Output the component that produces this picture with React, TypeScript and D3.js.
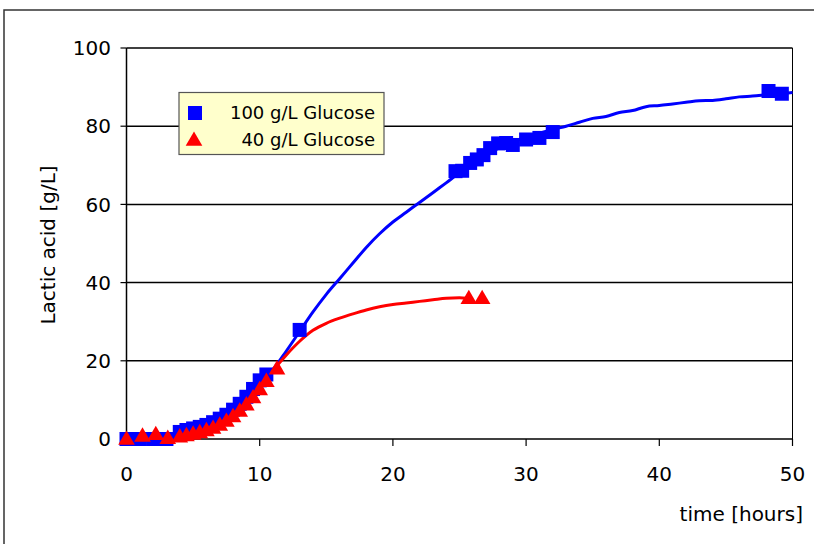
import React from 'react';
import * as d3 from 'd3';

// measured samples, 100 g/L glucose (squares)
const hours100 = [0, 1, 2, 3, 4, 4.5, 5, 5.5, 6, 6.5, 7, 7.5, 8, 8.5, 9, 9.5, 10, 10.5, 13,
  24.7, 25.2, 25.8, 26.3, 26.8, 27.3, 27.9, 28.5, 29, 30, 31, 32, 48.2, 49.2];
const lactic100 = [0, 0, 0, 0, 1.8, 2.3, 2.7, 3.1, 3.6, 4.3, 5.2, 6.2, 7.5, 9, 10.8, 12.8, 15, 16.5, 27.9,
  68.5, 68.6, 70.6, 71.5, 72.6, 74.4, 75.6, 75.7, 75.2, 76.6, 77, 78.5, 89, 88.3];

// measured samples, 40 g/L glucose (triangles)
const hours40 = [0, 1.2, 2.2, 3.1, 4, 4.5, 5, 5.5, 6, 6.5, 7, 7.5, 8, 8.5, 9, 9.5, 10, 10.5, 11.3, 25.7, 26.7];
const lactic40 = [0, 0.8, 1.2, 0.2, 0.6, 0.9, 1.3, 1.7, 2.2, 2.8, 3.6, 4.6, 5.8, 7.2, 8.8, 10.6, 12.7, 14.8, 18, 36, 36];

// model curves
const fitHours100 = [0, 2, 4, 5, 6, 7, 8, 9, 10, 11, 12, 13, 14, 15, 16, 17, 18, 19, 20, 21, 22, 23, 24, 25,
  26, 27, 28, 29, 30, 31, 32, 33, 34, 35, 36, 37, 38, 39, 40, 41, 42, 43, 44, 45, 46, 47, 48, 49, 50];
const fitLactic100 = [0, 0.3, 1.3, 2.2, 3.3, 5, 7.5, 10.6, 14.5, 17.8, 22.5, 27.5, 32.5, 37, 41, 45, 49, 52.5,
  55.5, 58, 60.5, 63, 65.5, 68, 70, 72.5, 74.5, 76, 77.2, 78.2, 79.2, 80, 81, 82, 82.5, 83.5, 84, 85, 85.3,
  85.7, 86.1, 86.5, 86.6, 87, 87.5, 87.7, 88, 88.3, 88.6];
const fitHours40 = [0, 2, 4, 5, 6, 7, 8, 9, 10, 11, 12, 13, 14, 15, 16, 17, 18, 19, 20, 21, 22, 23, 24, 25, 25.5];
const fitLactic40 = [0, 0.3, 0.8, 1.4, 2.3, 3.6, 5.7, 8.7, 12.8, 17.5, 21.5, 25, 27.8, 29.6, 30.9, 32, 33,
  33.8, 34.4, 34.8, 35.2, 35.6, 36, 36.1, 36];

const xTicks = [0, 10, 20, 30, 40, 50];
const yTicks = [0, 20, 40, 60, 80, 100];
const seriesNames = ['100 g/L Glucose', '40 g/L Glucose'];

const W = 814, H = 544;
const FONT = 'DejaVu Sans, Verdana, sans-serif';

const App = () => {
  const x = d3.scaleLinear().domain([0, 50]).range([126.5, 792.5]);
  const y = d3.scaleLinear().domain([0, 100]).range([439, 48]);

  const line = d3.line<[number, number]>()
    .x(d => x(d[0]))
    .y(d => y(d[1]))
    .curve(d3.curveMonotoneX);

  const blueFit = line(fitHours100.map((t, i) => [t, fitLactic100[i]]) as [number, number][]);
  const redFit = line(fitHours40.map((t, i) => [t, fitLactic40[i]]) as [number, number][]);

  const sq = 14;
  const tri = d3.symbol().type(d3.symbolTriangle).size(120)();

  const [x0, x1] = x.range();
  const [yb, yt] = y.range();

  return (
    <svg width={W} height={H} style={{ position: 'absolute', left: 0, top: 0 }} fontFamily={FONT}>
      <rect x={0} y={0} width={W} height={H} fill="#fff" />
      {/* outer chart frame */}
      <rect x={4} y={10} width={W + 20} height={H + 20} fill="none" stroke="#333" strokeWidth={1.5} />

      {/* gridlines */}
      {yTicks.filter(v => v > 0).map(v => (
        <line key={'g' + v} x1={x0} x2={x1} y1={y(v)} y2={y(v)} stroke="#000" strokeWidth={1.5} />
      ))}
      <line x1={x1} x2={x1} y1={yt} y2={yb} stroke="#000" strokeWidth={1} />

      {/* axes */}
      <line x1={x0} x2={x0} y1={yt} y2={yb} stroke="#000" strokeWidth={1.5} />
      <line x1={x0} x2={x1} y1={yb} y2={yb} stroke="#000" strokeWidth={1.5} />
      {yTicks.map(v => (
        <g key={'y' + v}>
          <line x1={x0 - 6} x2={x0} y1={y(v)} y2={y(v)} stroke="#000" strokeWidth={1.2} />
          <text x={111} y={y(v)} dy="0.36em" textAnchor="end" fontSize={20}>{v}</text>
        </g>
      ))}
      {xTicks.map(v => (
        <g key={'x' + v}>
          <line x1={x(v)} x2={x(v)} y1={yb} y2={yb + 7} stroke="#000" strokeWidth={1.2} />
          <text x={x(v)} y={474} dy="0.36em" textAnchor="middle" fontSize={20}>{v}</text>
        </g>
      ))}
      <text transform="translate(55,245) rotate(-90)" textAnchor="middle" fontSize={20}>Lactic acid [g/L]</text>
      <text x={803} y={521} textAnchor="end" fontSize={20}>time [hours]</text>

      {/* model lines */}
      <path d={blueFit || ''} fill="none" stroke="#0000ff" strokeWidth={3} />
      <path d={redFit || ''} fill="none" stroke="#ff0000" strokeWidth={3} />

      {/* data markers */}
      {hours100.map((t, i) => (
        <rect key={'b' + i} x={x(t) - sq / 2} y={y(lactic100[i]) - sq / 2} width={sq} height={sq} fill="#0000ff" />
      ))}
      {hours40.map((t, i) => (
        <path key={'r' + i} d={tri || ''} transform={`translate(${x(t)},${y(lactic40[i]) + 1})`} fill="#ff0000" />
      ))}

      {/* legend */}
      <g>
        <rect x={179} y={92.5} width={205} height={62} fill="#ffffcc" stroke="#555" strokeWidth={1.2} />
        <rect x={188} y={106} width={sq} height={sq} fill="#0000ff" />
        <text x={375} y={113} dy="0.36em" textAnchor="end" fontSize={18}>{seriesNames[0]}</text>
        <path d={tri || ''} transform="translate(194,141)" fill="#ff0000" />
        <text x={375} y={140} dy="0.36em" textAnchor="end" fontSize={18}>{seriesNames[1]}</text>
      </g>
    </svg>
  );
};

export default App;
